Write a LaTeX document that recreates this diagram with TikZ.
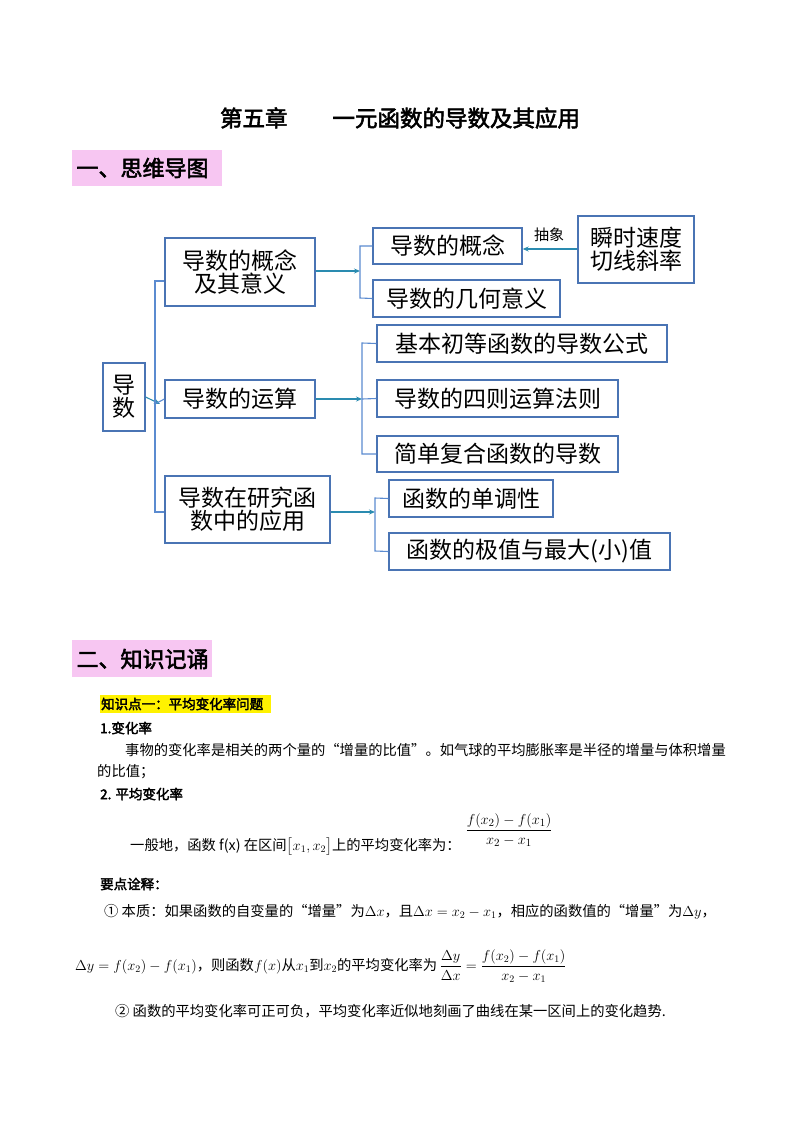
\documentclass[tikz,border=0pt]{standalone}
\usepackage{amsmath}
\usepackage{fontspec}
\setmainfont{Noto Sans CJK SC}[BoldFont=Noto Sans CJK SC,BoldFeatures={FakeBold=2.5}]
\usetikzlibrary{arrows.meta}
\definecolor{bx}{HTML}{4A74B4}
\definecolor{ln}{HTML}{5B8BD0}
\definecolor{ar}{HTML}{2A8BB0}
\definecolor{pk}{HTML}{F7C6F2}
\tikzset{
  box/.style={draw=bx,line width=1.3pt,inner sep=0pt,font=\fontsize{23}{26}\selectfont,align=center},
  conn/.style={draw=ln,line width=1.1pt},
  arr/.style={draw=ar,line width=1.1pt,-{Stealth[length=6pt,width=5pt]}},
  body/.style={font=\fontsize{14.3}{17}\selectfont,anchor=west,inner sep=0pt},
  bh/.style={font=\fontsize{13.5}{16}\selectfont\bfseries,anchor=west,inner sep=0pt}
}
\newcommand{\bxn}[6]{\node[box,minimum width=#4-#2,minimum height=#5-#3] (#1) at ({(#2+#4)/2},{(#3+#5)/2}) {#6};}
\begin{document}
\begin{tikzpicture}[x=1pt,y=-1pt]
\useasboundingbox (0,0) rectangle (800,1132);
\node[font=\fontsize{22.5}{26}\selectfont\bfseries] (title) at (400,118) {第五章\hspace{2em}一元函数的导数及其应用};
\fill[pk] (72,150) rectangle (222,186);
\node[font=\fontsize{22}{25}\selectfont\bfseries,anchor=west] (h1) at (73,168) {一、思维导图};
\fill[pk] (72,640) rectangle (212,677);
\node[font=\fontsize{22}{25}\selectfont\bfseries,anchor=west] (h2) at (73,659) {二、知识记诵};
% boxes
\bxn{root}{103}{363}{145}{431}{导\\[-3pt]数}
\bxn{a}{165}{238}{315}{306}{导数的概念\\[-3pt]及其意义}
\bxn{b}{165}{380}{315}{418}{导数的运算}
\bxn{c}{165}{476}{330}{543}{导数在研究函\\[-3pt]数中的应用}
\bxn{a1}{373}{228}{522}{264}{导数的概念}
\bxn{a2}{373}{280}{560}{317}{导数的几何意义}
\bxn{s}{578}{216}{694}{283}{瞬时速度\\[-3pt]切线斜率}
\bxn{b1}{377}{325}{667}{362}{基本初等函数的导数公式}
\bxn{b2}{377}{380}{618}{417}{导数的四则运算法则}
\bxn{b3}{377}{436}{618}{472}{简单复合函数的导数}
\bxn{c1}{389}{480}{553}{517}{函数的单调性}
\bxn{c2}{389}{533}{670}{570}{函数的极值与最大(小)值}
\node[font=\fontsize{15}{17}\selectfont] (lab) at (549,235) {抽象};
% root connectors
\draw[arr] (root.east) -- (160,404);
\draw[conn] (a.west|-0,281) -- (155,281) -- (155,512) -- (c.west|-0,512);
\draw[conn] (155,404) -- (b.west);
% level 2
\draw[arr] (a.east|-0,271) -- (360,271);
\draw[conn] (a1.west) -- (360,246) -- (360,298) -- (a2.west);
\draw[arr] (b.east|-0,399) -- (362,399);
\draw[conn] (b1.west) -- (362,343) -- (362,454) -- (b3.west);
\draw[conn] (362,399) -- (b2.west);
\draw[arr] (c.east|-0,512) -- (375,512);
\draw[conn] (c1.west) -- (375,498) -- (375,551) -- (c2.west);
\draw[arr] (s.west|-0,249) -- (a1.east|-0,249);
% text section
\fill[yellow] (100,695) rectangle (271,713);
\node[bh] (k1) at (101,704) {知识点一：平均变化率问题};
\node[bh] (t1) at (100,728) {1.变化率};
\node[body] (p1) at (125,750) {事物的变化率是相关的两个量的“增量的比值”。如气球的平均膨胀率是半径的增量与体积增量};
\node[body] (p2) at (97,772) {的比值；};
\node[bh] (t2) at (100,794) {2. 平均变化率};
\node[body] (p3) at (130,847) {一般地，函数 f(x) 在区间$\bigl[x_1,x_2\bigr]$上的平均变化率为：};
\node[font=\fontsize{15}{17}\selectfont] (f1) at (509,830) {$\dfrac{f(x_2)-f(x_1)}{x_2-x_1}$};
\node[bh] (t3) at (100,884) {要点诠释：};
\node[body] (p4) at (104,912) {①\ 本质：如果函数的自变量的“增量”为$\Delta x$，且$\Delta x=x_2-x_1$，相应的函数值的“增量”为$\Delta y$，};
\node[body] (p5) at (75,966) {$\Delta y=f(x_2)-f(x_1)$，则函数$f(x)$从$x_1$到$x_2$的平均变化率为\,$\dfrac{\Delta y}{\Delta x}=\dfrac{f(x_2)-f(x_1)}{x_2-x_1}$};
\node[body] (p6) at (115,1011) {②\ 函数的平均变化率可正可负，平均变化率近似地刻画了曲线在某一区间上的变化趋势.};
\end{tikzpicture}
\end{document}
